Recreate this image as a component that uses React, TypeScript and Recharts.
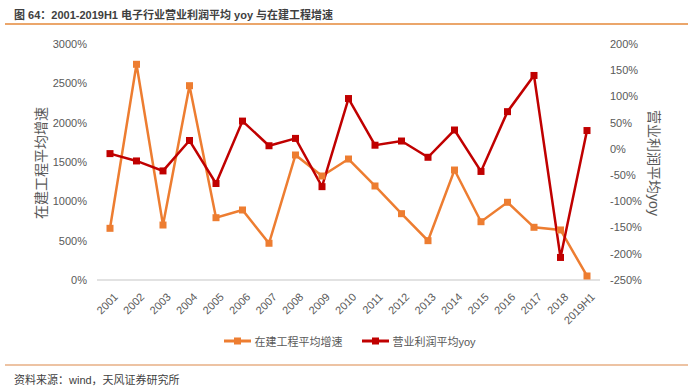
import React from 'react'
import { LineChart, Line, XAxis, YAxis, Legend } from 'recharts'

const YEARS = [
  '2001', '2002', '2003', '2004', '2005', '2006', '2007', '2008', '2009', '2010',
  '2011', '2012', '2013', '2014', '2015', '2016', '2017', '2018', '2019H1'
]

// 在建工程平均增速 (%)
const CIP_GROWTH = [
  657, 2742, 699, 2470, 792, 890, 467, 1589, 1322, 1538,
  1195, 843, 500, 1398, 741, 988, 670, 636, 51
]

// 营业利润平均yoy (%)
const PROFIT_YOY = [
  -9, -23, -42, 16, -66, 53, 6, 20, -72, 96,
  7, 15, -16, 36, -43, 71, 140, -207, 35
]

const LEFT_TICKS = [0, 500, 1000, 1500, 2000, 2500, 3000]
const RIGHT_TICKS = [-250, -200, -150, -100, -50, 0, 50, 100, 150, 200]

const ORANGE = '#ED7D31'
const RED = '#C00000'
const GREY = '#595959'
const FONT = 'Arial, "Liberation Sans", "Noto Sans CJK SC", sans-serif'

const chartData = YEARS.map((year, i) => ({
  year,
  cip: CIP_GROWTH[i],
  profit: PROFIT_YOY[i]
}))

const SquareDot = (props: any) => {
  const { cx, cy, stroke } = props
  if (cx == null || cy == null) return null
  return <rect x={cx - 3.5} y={cy - 3.5} width={7} height={7} fill={stroke} />
}

const YearTick = (props: any) => {
  const { x, y, payload } = props
  return (
    <g transform={`translate(${x + 3},${y + 4})`}>
      <text
        x={0}
        y={0}
        dy={8}
        textAnchor="end"
        transform="rotate(-45)"
        fill={GREY}
        fontSize={11}
        fontFamily={FONT}
      >
        {payload.value}
      </text>
    </g>
  )
}

const LegendContent = (props: any) => {
  const items = props.payload || []
  return (
    <div style={{ display: 'flex', justifyContent: 'center', gap: 20, fontFamily: FONT }}>
      {items.map((item: any) => (
        <div key={item.value} style={{ display: 'flex', alignItems: 'center' }}>
          <svg width={27} height={10} style={{ marginRight: 3 }}>
            <line x1={0} y1={5} x2={27} y2={5} stroke={item.color} strokeWidth={3} />
            <rect x={10} y={1.5} width={7} height={7} fill={item.color} />
          </svg>
          <span style={{ fontSize: 11, color: GREY }}>{item.value}</span>
        </div>
      ))}
    </div>
  )
}

export default function App() {
  return (
    <div
      style={{
        position: 'absolute',
        left: 0,
        top: 0,
        width: 700,
        height: 388,
        background: '#fff',
        fontFamily: FONT,
        overflow: 'hidden'
      }}
    >
      <div
        style={{
          position: 'absolute',
          left: 14,
          top: 6,
          fontSize: 11,
          fontWeight: 'bold',
          color: '#404040',
          whiteSpace: 'nowrap'
        }}
      >
        图 64：2001-2019H1 电子行业营业利润平均 yoy 与在建工程增速
      </div>
      <div style={{ position: 'absolute', left: 5, top: 23, width: 683, height: 2, background: '#EBA66B' }} />

      <div
        style={{
          position: 'absolute',
          left: 40,
          top: 163,
          transform: 'translate(-50%, -50%) rotate(-90deg)',
          fontSize: 14,
          color: GREY,
          whiteSpace: 'nowrap'
        }}
      >
        在建工程平均增速
      </div>
      <div
        style={{
          position: 'absolute',
          left: 655,
          top: 163,
          transform: 'translate(-50%, -50%) rotate(90deg)',
          fontSize: 14,
          color: GREY,
          whiteSpace: 'nowrap'
        }}
      >
        营业利润平均yoy
      </div>

      <LineChart
        width={700}
        height={388}
        data={chartData}
        margin={{ top: 44, right: 0, bottom: 0, left: 0 }}
        style={{ position: 'absolute', left: 0, top: 0 }}
      >
        <XAxis
          dataKey="year"
          interval={0}
          padding={{ left: 13, right: 13 }}
          axisLine={{ stroke: '#D9D9D9', strokeWidth: 1.5 }}
          tickLine={false}
          tick={<YearTick />}
          height={108}
        />
        <YAxis
          yAxisId="left"
          orientation="left"
          width={97}
          domain={[0, 3000]}
          ticks={LEFT_TICKS}
          interval={0}
          tickFormatter={(v: number) => `${v}%`}
          axisLine={false}
          tickLine={false}
          tickSize={0}
          tickMargin={10}
          tick={{ fill: GREY, fontSize: 11, fontFamily: FONT }}
        />
        <YAxis
          yAxisId="right"
          orientation="right"
          width={100}
          domain={[-250, 200]}
          ticks={RIGHT_TICKS}
          interval={0}
          tickFormatter={(v: number) => `${v}%`}
          axisLine={false}
          tickLine={false}
          tickSize={0}
          tickMargin={10}
          tick={{ fill: GREY, fontSize: 11, fontFamily: FONT, textAnchor: 'start' }}
        />
        <Line
          yAxisId="left"
          dataKey="cip"
          name="在建工程平均增速"
          stroke={ORANGE}
          strokeWidth={2.5}
          dot={<SquareDot />}
          activeDot={false}
          isAnimationActive={false}
        />
        <Line
          yAxisId="right"
          dataKey="profit"
          name="营业利润平均yoy"
          stroke={RED}
          strokeWidth={2.5}
          dot={<SquareDot />}
          activeDot={false}
          isAnimationActive={false}
        />
        <Legend
          verticalAlign="middle"
          align="center"
          content={<LegendContent />}
          wrapperStyle={{ top: 333, left: 0, width: 700 }}
        />
      </LineChart>

      <div style={{ position: 'absolute', left: 5, top: 364, width: 683, height: 2, background: '#EDC3A3' }} />
      <div
        style={{
          position: 'absolute',
          left: 14,
          top: 371,
          fontSize: 11,
          color: '#404040',
          whiteSpace: 'nowrap'
        }}
      >
        资料来源：wind，天风证券研究所
      </div>
    </div>
  )
}
